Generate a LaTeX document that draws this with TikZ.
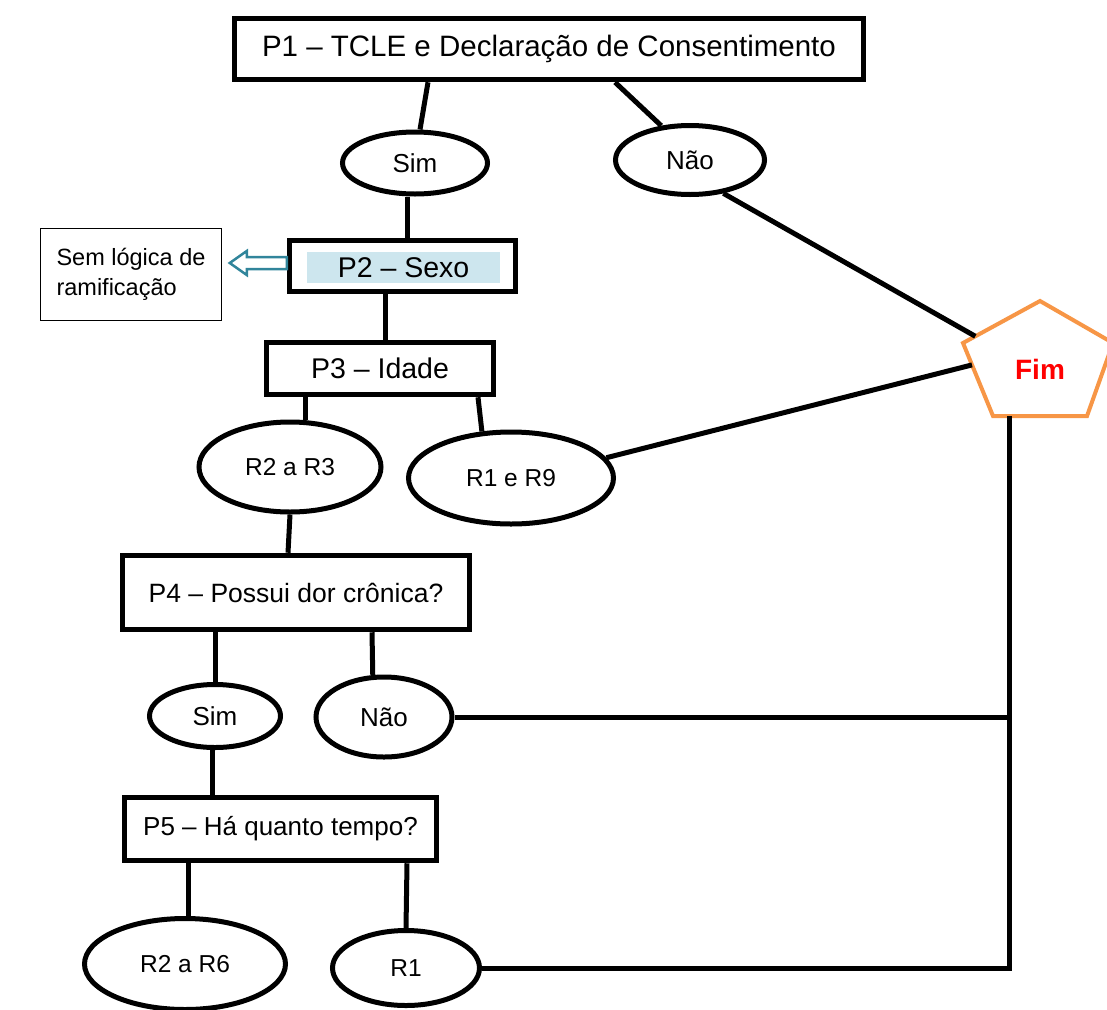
\documentclass[tikz,border=0pt]{standalone}
\usepackage{fontspec}
\setmainfont{Liberation Sans}
\usetikzlibrary{shapes.geometric,calc}
\definecolor{fimorange}{RGB}{247,150,70}
\definecolor{arrteal}{RGB}{49,133,155}
\definecolor{lightaqua}{RGB}{205,230,238}
\definecolor{fimred}{RGB}{255,0,0}
\begin{document}
\begin{tikzpicture}[x=1pt,y=-1pt,
  qbox/.style={draw,line width=5.5pt,rectangle,inner sep=0pt},
  answer/.style={draw,line width=5pt,ellipse,inner sep=0pt},
  conn/.style={line width=5pt},
  fbig/.style={font=\fontsize{29.5}{34}\selectfont},
  fmid/.style={font=\fontsize{26.5}{31}\selectfont},
  fans/.style={font=\fontsize{26}{30}\selectfont},
  fres/.style={font=\fontsize{24.5}{29}\selectfont},
  fnote/.style={font=\fontsize{23.5}{30}\selectfont}]
\useasboundingbox (0,0) rectangle (1107,1009);

% question boxes
\node[qbox,fbig,minimum width=629,minimum height=61] (P1) at (549,49) {P1 – TCLE e Declaração de Consentimento};
\node[qbox,minimum width=226,minimum height=51] (P2) at (402.5,266) {};
\node[fill=lightaqua,inner sep=0pt,minimum width=193,minimum height=31,font=\fontsize{28.5}{33}\selectfont] (P2t) at (403.5,267.5) {P2 – Sexo};
\node[qbox,font=\fontsize{28.5}{33}\selectfont,minimum width=227,minimum height=52] (P3) at (380,368.5) {P3 – Idade};
\node[qbox,fmid,minimum width=347,minimum height=74] (P4) at (296,592.5) {P4 – Possui dor crônica?};
\node[qbox,font=\fontsize{26}{31}\selectfont,minimum width=312,minimum height=63] (P5) at (280.5,829) {P5 – Há quanto tempo?};

% note box
\node[draw,line width=1.2pt,rectangle,inner sep=0pt,minimum width=181,minimum height=92,align=left,fnote] (Sem) at (131,274.5) {Sem lógica de\\ramificação};

% answers
\node[answer,fans,minimum width=145,minimum height=62] (Sim1) at (415,163) {Sim};
\node[answer,fans,minimum width=149,minimum height=69] (Nao1) at (690,160) {Não};
\node[answer,fres,minimum width=182,minimum height=90] (R23) at (290,467) {R2 a R3};
\node[answer,fres,minimum width=205,minimum height=92] (R19) at (511,478) {R1 e R9};
\node[answer,fans,minimum width=131,minimum height=63] (Sim2) at (215,716) {Sim};
\node[answer,fans,minimum width=136,minimum height=80] (Nao2) at (384,717) {Não};
\node[answer,fres,minimum width=201,minimum height=91] (R26) at (185,964) {R2 a R6};
\node[answer,fres,minimum width=147,minimum height=75] (R1) at (406,968) {R1};

% Fim pentagon
\coordinate (FimT) at (1040,301);
\coordinate (FimR) at (1113,343);
\coordinate (FimBR) at (1087,416);
\coordinate (FimBL) at (993,416);
\coordinate (FimL) at (963,343);
\draw[fimorange,line width=4pt,fill=white] (FimT) -- (FimR) -- (FimBR) -- (FimBL) -- (FimL) -- cycle;
\node[text=fimred,font=\fontsize{28}{32}\selectfont\bfseries] (Fim) at (1040,369) {Fim};
\coordinate (FimA) at ($(FimL)!0.16!(FimT)$);
\coordinate (FimC) at ($(FimL)!0.3!(FimBL)$);
\coordinate (FimBot) at ($(FimBL)!0.18!(FimBR)$);

% hollow arrow P2 -> note
\coordinate (arrTail) at ([yshift=3pt]P2.west);
\draw[arrteal,line width=2.5pt,fill=white,line join=miter]
  (arrTail) ++(0,-6) -- ++(-40,0) -- ++(0,-6) -- ++(-17,12) -- ++(17,12) -- ++(0,-6) -- ++(40,0) -- cycle;

% connectors
\draw[conn] ([xshift=-121pt]P1.south) -- ([xshift=5pt]Sim1.north);
\draw[conn] ([xshift=66pt]P1.south) -- (Nao1.130);
\draw[conn] (Nao1.-45) -- (FimA);
\draw[conn] ([xshift=-8pt]Sim1.south) -- ([xshift=4.5pt]P2.north);
\draw[conn] ([xshift=-17.5pt]P2.south) -- ([xshift=5pt]P3.north);
\draw[conn] ([xshift=-75pt]P3.south) -- ([xshift=15pt]R23.north);
\draw[conn] ([xshift=98pt]P3.south) -- (R19.122);
\draw[conn] (R19.12) -- (FimC);
\draw[conn] (R23.south) -- ([xshift=-8pt]P4.north);
\draw[conn] ([xshift=-81pt]P4.south) -- (Sim2.north);
\draw[conn] ([xshift=76pt]P4.south) -- (Nao2.105);
\draw[conn] ([xshift=-3pt]Sim2.south) -- ([xshift=-68.5pt]P5.north);
\draw[conn] ([xshift=-92.5pt]P5.south) -- ([xshift=3pt]R26.north);
\draw[conn] ([xshift=126.5pt]P5.south) -- (R1.north);
\draw[conn] (Nao2.east) -- (Nao2.east -| FimBot);
\draw[conn] (FimBot) |- (R1.east);
\end{tikzpicture}
\end{document}
